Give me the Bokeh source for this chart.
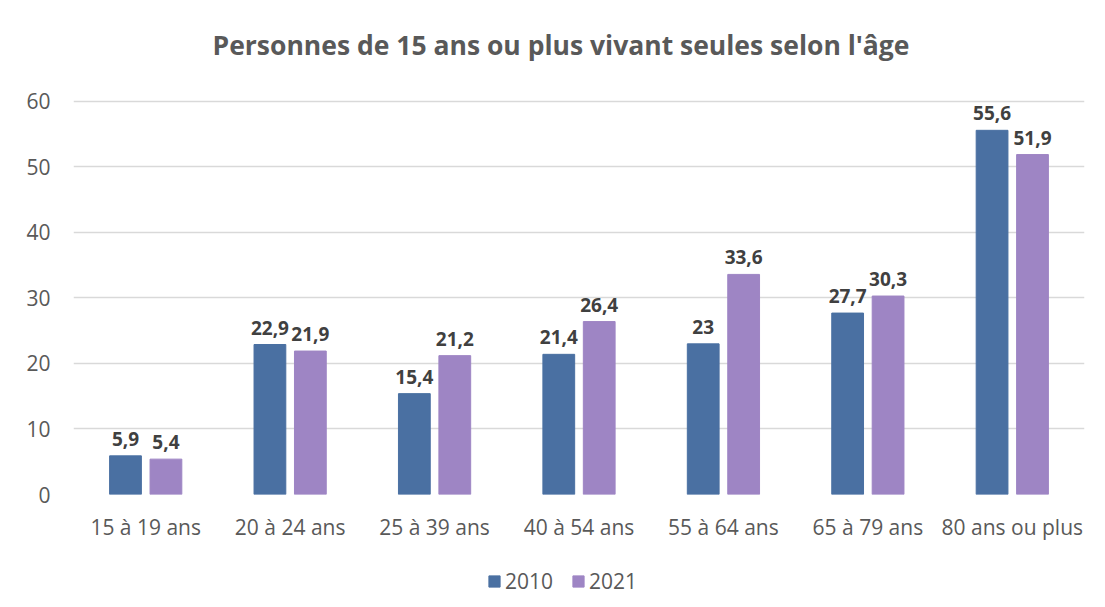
from bokeh.plotting import figure
from bokeh.layouts import column
from bokeh.models import ColumnDataSource, FactorRange, Range1d, FixedTicker, Legend, LegendItem
from bokeh.transform import dodge
from bokeh.core.properties import value
from bokeh.embed import file_html
from bokeh.resources import INLINE

categories = ["15 à 19 ans", "20 à 24 ans", "25 à 39 ans", "40 à 54 ans", "55 à 64 ans", "65 à 79 ans", "80 ans ou plus"]
v2010 = [5.9, 22.9, 15.4, 21.4, 23, 27.7, 55.6]
v2021 = [5.4, 21.9, 21.2, 26.4, 33.6, 30.3, 51.9]
series = ["2010", "2021"]
y_ticks = [0, 10, 20, 30, 40, 50, 60]

def fmt(v):
    return ("%g" % v).replace(".", ",")

src = ColumnDataSource(dict(cat=categories, a=v2010, b=v2021,
                            la=[fmt(v) for v in v2010], lb=[fmt(v) for v in v2021]))

FONT = "Open Sans"
GREY = "#595959"
c1 = "#4A70A2"
c2 = "#9E85C4"

p = figure(x_range=FactorRange(*categories, range_padding=0), y_range=Range1d(0, 65.19),
           width=1105, height=560, output_backend="svg", toolbar_location=None,
           min_border_left=73, min_border_right=21, min_border_top=67, min_border_bottom=66)

p.title.text = "Personnes de 15 ans ou plus vivant seules selon l'âge"
p.title.align = "left"
p.title.offset = 139
p.title.text_font = FONT
p.title.text_font_size = "26.5px"
p.title.text_font_style = "bold"
p.title.text_color = GREY

r1 = p.vbar(x=dodge("cat", -0.14, range=p.x_range), top="a", width=0.22, source=src, color=c1)
r2 = p.vbar(x=dodge("cat", 0.14, range=p.x_range), top="b", width=0.22, source=src, color=c2)

for off, col in [(-0.14, "a"), (0.14, "b")]:
    p.text(x=dodge("cat", off, range=p.x_range), y=col, text="l" + col, source=src,
           text_align="center", text_baseline="alphabetic", y_offset=-17,
           text_font=value(FONT), text_font_size="19px", text_font_style="bold",
           text_color="#404040")

p.yaxis.ticker = FixedTicker(ticks=y_ticks)
p.ygrid.ticker = FixedTicker(ticks=y_ticks)
p.xgrid.grid_line_color = None
p.ygrid.grid_line_color = "#d9d9d9"
p.ygrid.grid_line_width = 1.5
p.outline_line_color = None
for ax in (p.xaxis, p.yaxis):
    ax.axis_line_color = None
    ax.major_tick_line_color = None
    ax.minor_tick_line_color = None
    ax.major_label_text_font = FONT
    ax.major_label_text_font_size = "21px"
    ax.major_label_text_color = GREY
p.yaxis.major_label_standoff = 17
p.xaxis.major_label_standoff = 12

# legend strip: same data, drawn out of view so only the legend swatches show
p2 = figure(width=1105, height=47, output_backend="svg", toolbar_location=None,
            x_range=FactorRange(*categories, range_padding=0), y_range=Range1d(100, 101),
            x_axis_location=None, y_axis_location=None,
            min_border_left=0, min_border_right=0, min_border_top=0, min_border_bottom=0)
p2.grid.visible = False
p2.outline_line_color = None
g1 = p2.vbar(x=dodge("cat", -0.14, range=p2.x_range), top="a", width=0.22, source=src, color=c1)
g2 = p2.vbar(x=dodge("cat", 0.14, range=p2.x_range), top="b", width=0.22, source=src, color=c2)
legend = Legend(items=[LegendItem(label=series[0], renderers=[g1]), LegendItem(label=series[1], renderers=[g2])],
                orientation="horizontal", location=(414, 12),
                glyph_width=14, glyph_height=14, label_text_font=FONT, label_text_font_size="21px",
                label_text_color=GREY, border_line_color=None, spacing=18, label_standoff=4,
                margin=0, padding=0, background_fill_alpha=0, label_height=20)
p2.add_layout(legend, "center")

open("out.html", "w").write(file_html(column(p, p2, spacing=0), INLINE))
